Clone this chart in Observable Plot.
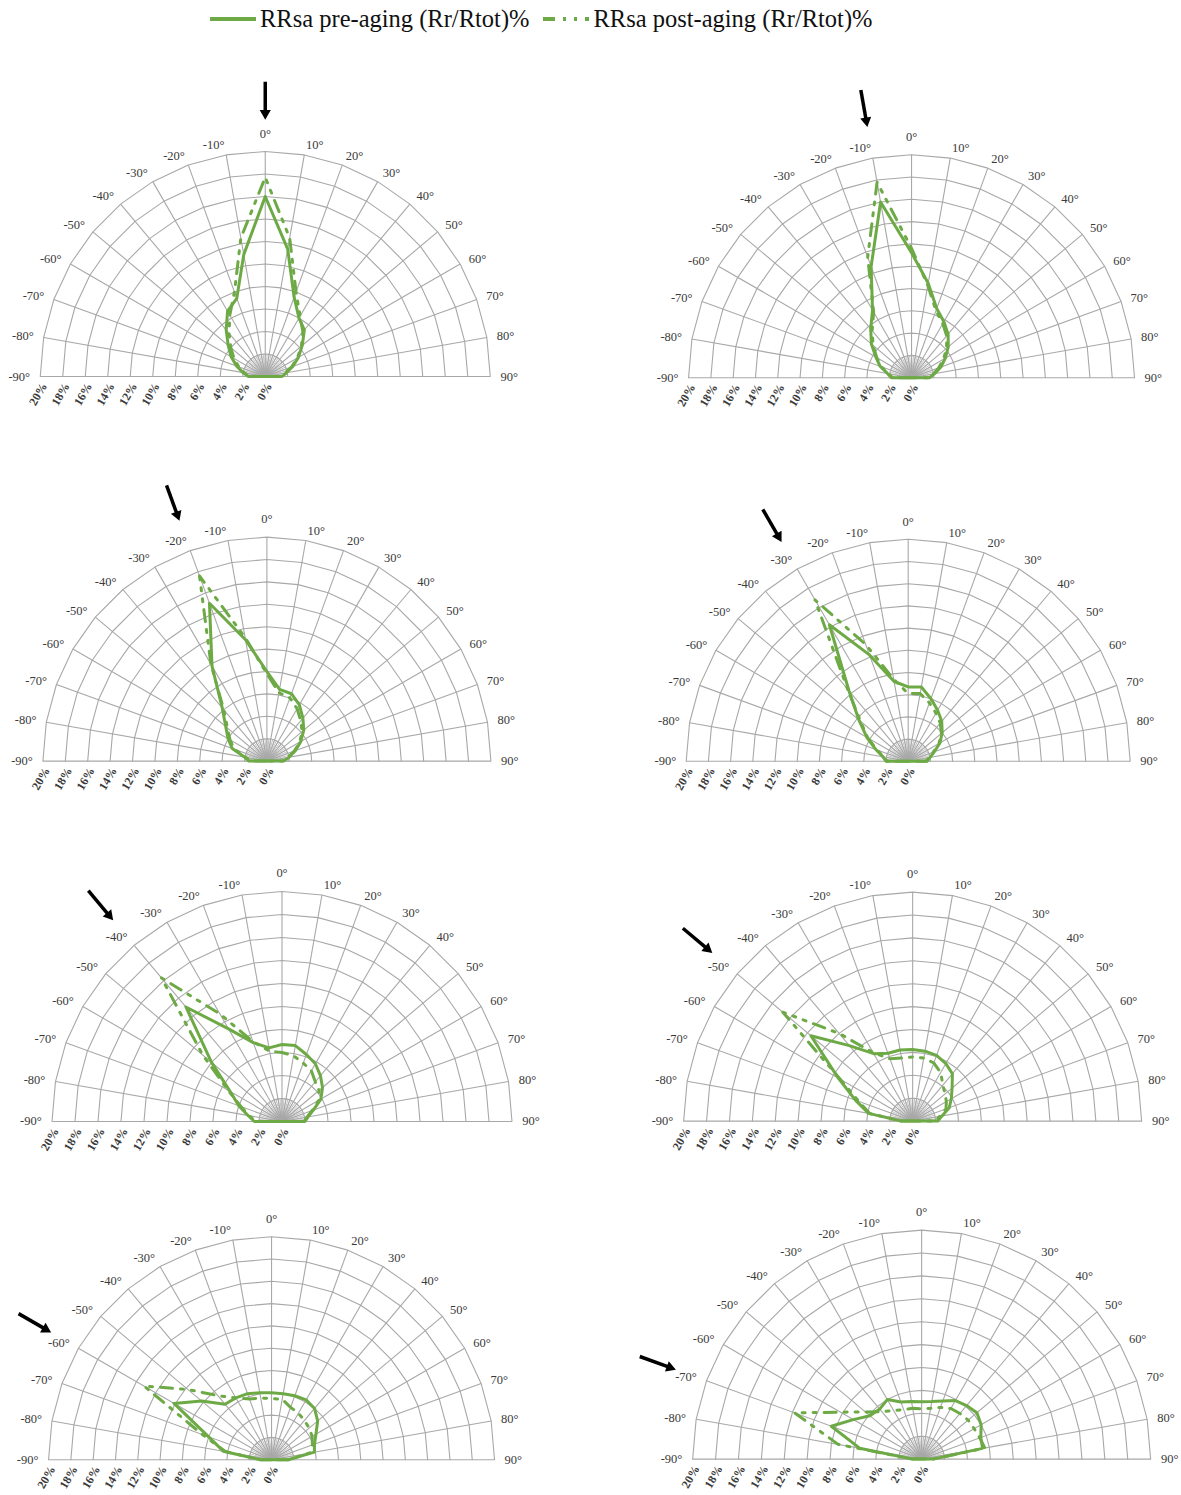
<!DOCTYPE html>
<html><head><meta charset="utf-8">
<script src="https://cdn.jsdelivr.net/npm/d3@7"></script>
<script src="https://cdn.jsdelivr.net/npm/@observablehq/plot@0.6"></script>
<style>
body{margin:0;background:#fff;}
#wrap{position:relative;width:1181px;height:1495px;overflow:hidden;font-family:"Liberation Serif",serif;background:#fff;}
.legend{position:absolute;top:5px;left:208px;font-size:24.5px;color:#111;display:flex;align-items:center;white-space:nowrap;}
.legend span{margin-right:12px;}
.legend svg{margin-right:2px;}
.panel{position:absolute;}
</style></head><body><div id="wrap">
<div class="legend">
<svg width="50" height="12"><line x1="2" x2="48" y1="6" y2="6" stroke="#6DAA45" stroke-width="4"/></svg><span>RRsa pre-aging (Rr/Rtot)%</span>
<svg width="50" height="12"><line x1="2" x2="48" y1="6" y2="6" stroke="#6DAA45" stroke-width="4" stroke-dasharray="12,8,3,8,3,8"/></svg><span>RRsa post-aging (Rr/Rtot)%</span>
</div>
</div>
<script>
// angles (degrees) of the radar categories
const angles = [-90,-80,-70,-60,-50,-40,-30,-20,-10,0,10,20,30,40,50,60,70,80,90];
// radial ticks (%)
const rTicks = [0,2,4,6,8,10,12,14,16,18,20];
const rLabels = ["0%","2%","4%","6%","8%","10%","12%","14%","16%","18%","20%"];
// light direction of each panel
const arrowAngles = [0,-10,-20,-30,-40,-50,-60,-70];

// RRsa (Rr/Rtot)% per panel, values at angles -90..90
const pre1  = [1.5,2.0,2.7,3.5,4.3,5.4,6.7,7.4,11.0,16.0,11.5,7.5,6.0,5.4,4.3,3.4,2.6,1.9,1.5];
const post1 = [1.4,1.9,2.5,3.2,4.0,5.0,6.3,8.0,12.5,17.7,12.5,8.0,6.2,5.2,4.2,3.3,2.5,1.8,1.4];
const pre2  = [1.8,2.2,3.0,3.7,4.7,5.7,7.0,10.6,16.0,11.2,8.6,6.6,5.8,5.1,4.3,3.5,2.8,2.1,1.6];
const post2 = [1.7,2.1,2.9,3.6,4.5,5.5,6.8,11.5,17.8,11.6,8.4,6.4,5.6,4.9,4.1,3.3,2.6,2.0,1.5];
const pre3  = [1.6,2.0,3.3,4.0,4.8,6.2,9.8,15.0,11.0,8.0,6.5,6.4,5.8,5.0,4.3,3.5,2.7,2.0,1.5];
const post3 = [1.5,1.9,3.1,3.8,4.6,6.0,10.0,17.6,11.2,7.8,6.2,6.0,5.4,4.7,4.1,3.4,2.6,1.9,1.4];
const pre4  = [2.0,2.3,3.1,4.3,5.8,8.3,14.2,10.2,7.3,6.7,6.8,6.0,5.3,4.7,4.0,3.3,2.5,2.0,1.7];
const post4 = [1.9,2.2,3.0,4.2,5.6,8.5,16.8,11.2,7.5,6.1,6.2,5.6,5.0,4.5,3.9,3.2,2.4,1.9,1.6];
const pre5  = [2.4,3.0,4.0,5.2,8.0,13.0,9.3,7.3,6.5,6.7,6.7,6.2,5.8,5.2,4.6,3.9,2.9,2.3,2.0];
const post5 = [2.3,2.9,3.8,5.4,9.0,16.3,10.8,7.4,6.2,6.0,5.8,5.4,5.1,4.5,4.2,3.7,2.8,2.2,1.9];
const pre6  = [1.0,3.9,5.3,7.5,11.6,8.6,6.8,6.3,6.3,6.25,6.2,6.1,5.8,5.4,4.5,3.9,3.4,2.6,2.2];
const post6 = [1.0,3.8,5.0,7.3,14.8,10.0,6.9,5.8,5.6,5.6,5.6,5.4,4.9,4.1,3.7,3.4,3.1,2.4,2.0];
const pre7  = [1.0,4.4,6.0,10.1,8.2,6.5,6.4,6.3,6.1,6.0,6.0,6.1,6.2,6.0,5.4,4.6,4.1,3.9,1.5];
const post7 = [1.0,4.2,6.6,13.2,9.8,7.5,6.4,5.8,5.6,5.5,5.5,5.0,4.8,4.6,4.4,4.2,3.9,3.5,1.5];
const pre8  = [0.8,5.5,8.4,6.9,5.9,5.7,6.0,5.3,5.1,5.0,5.1,5.4,5.9,6.1,6.3,6.0,5.5,5.4,1.0];
const post8 = [0.8,7.4,11.8,8.2,6.4,5.4,4.9,4.6,4.5,4.4,4.5,4.8,5.1,5.2,5.3,5.3,5.4,5.6,1.0];

const preSeries  = [pre1,pre2,pre3,pre4,pre5,pre6,pre7,pre8];
const postSeries = [post1,post2,post3,post4,post5,post6,post7,post8];

// panel layout: centre (px) and radius of 20% ring (px)
const layout = [
  {cx:265, cy:376, R:225}, {cx:911, cy:377, R:223},
  {cx:266, cy:761, R:224}, {cx:908, cy:761, R:222},
  {cx:281, cy:1121, R:230}, {cx:912, cy:1121, R:229},
  {cx:271, cy:1459, R:223}, {cx:921, cy:1459, R:229}
];

const GREEN = "#6DAA45", GRID = "#a8a8a8", LABEL = "#3a3a3a";
const rad = a => a*Math.PI/180;
const px = (r,a) => r*Math.sin(rad(a));
const py = (r,a) => r*Math.cos(rad(a));

function panel(pre, post, arrowA, L) {
  const k = L.R/20, X0=-27, X1=27, Y0=-3.2, Y1=28;
  const W=(X1-X0)*k, H=(Y1-Y0)*k;
  const ringPts = rTicks.filter(r=>r>0).flatMap(r => angles.map(a => ({r,a})));
  const spokes = angles.map(a => ({a, r:20}));
  const inner = d3.range(-90, 91, 5).map(a => ({a, r:2}));
  const toPts = vals => [{a:-90,r:0}, ...angles.map((a,i)=>({a, r:vals[i]})), {a:90,r:0}];
  const xy = {x: d=>px(d.r,d.a), y: d=>py(d.r,d.a)};
  const arrow = [{a:arrowA}];
  const lab = {text:a=>`${a}°`, fontSize:12.5, fill:LABEL, fontFamily:"Liberation Serif"};
  const LR = 20.9;
  const plot = Plot.plot({
    width: W, height: H, margin: 0,
    x: {domain:[X0,X1], range:[0,W], axis:null},
    y: {domain:[Y0,Y1], range:[H,0], axis:null},
    style: {overflow:"visible", background:"transparent"},
    marks: [
      Plot.line(ringPts, {...xy, z:"r", stroke:GRID, strokeWidth:1.1}),
      Plot.link(spokes, {x1:()=>0, y1:()=>0, x2:d=>px(d.r,d.a), y2:d=>py(d.r,d.a), stroke:GRID, strokeWidth:1.1}),
      Plot.link(inner, {x1:()=>0, y1:()=>0, x2:d=>px(d.r,d.a), y2:d=>py(d.r,d.a), stroke:GRID, strokeWidth:0.7}),
      Plot.text(angles.filter(a=>a<0), {x:a=>px(LR,a), y:a=>py(LR,a), textAnchor:"end", ...lab}),
      Plot.text(angles.filter(a=>a>0), {x:a=>px(LR,a), y:a=>py(LR,a), textAnchor:"start", ...lab}),
      Plot.text(angles.filter(a=>a===0), {x:a=>px(21.6,a), y:a=>py(21.6,a), textAnchor:"middle", ...lab}),
      Plot.text(rTicks, {x:r=>-r+0.35, y:()=>-0.65, text:(r,i)=>rLabels[i], rotate:-60, textAnchor:"end", fontSize:12, fontWeight:"bold", fill:LABEL, fontFamily:"Liberation Serif"}),
      Plot.line(toPts(post), {...xy, stroke:GREEN, strokeWidth:3, strokeDasharray:"12,8,3,8,3,8", strokeLinejoin:"round"}),
      Plot.line(toPts(pre), {...xy, stroke:GREEN, strokeWidth:3, strokeLinejoin:"round"}),
      Plot.link(arrow, {x1:d=>px(26.2,d.a), y1:d=>py(26.2,d.a), x2:d=>px(23.6,d.a), y2:d=>py(23.6,d.a), stroke:"#000", strokeWidth:3.5}),
      Plot.dot(arrow, {x:d=>px(23.4,d.a), y:d=>py(23.4,d.a), symbol:"triangle2", r:5.3, fill:"#000", rotate:d=>180+d.a})
    ]
  });
  plot.classList.add("panel");
  plot.style.left = (L.cx + X0*k) + "px";
  plot.style.top = (L.cy - Y1*k) + "px";
  plot.style.position = "absolute";
  return plot;
}

const wrap = document.getElementById("wrap");
layout.forEach((L,i) => wrap.appendChild(panel(preSeries[i], postSeries[i], arrowAngles[i], L)));
</script>
</body></html>
